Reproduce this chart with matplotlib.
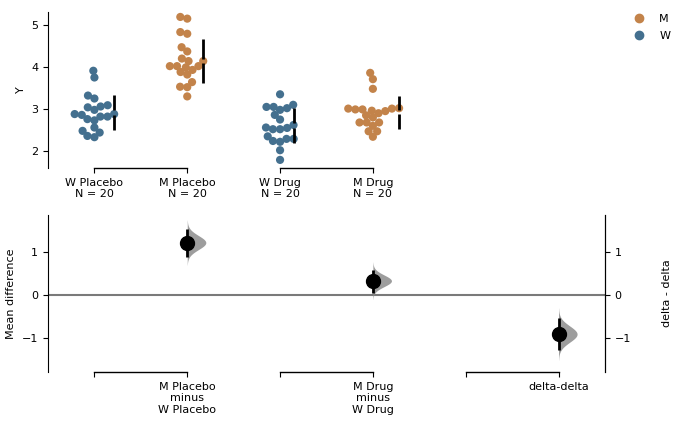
import matplotlib
matplotlib.use("Agg")
import matplotlib.pyplot as plt
from matplotlib.lines import Line2D
import numpy as np
import pandas as pd
import seaborn as sns

groups = ["W Placebo", "M Placebo", "W Drug", "M Drug"]
group_sex = ["W", "M", "W", "M"]
w_placebo = [3.91, 3.75, 3.32, 3.25, 3.09, 3.04, 2.98, 3.06, 2.88, 2.86,
             2.88, 2.76, 2.73, 2.82, 2.82, 2.56, 2.44, 2.36, 2.33, 2.48]
m_placebo = [5.19, 5.15, 4.83, 4.79, 4.47, 4.37, 4.20, 4.14, 4.14, 4.02,
             4.02, 4.02, 3.99, 3.93, 3.88, 3.82, 3.64, 3.53, 3.52, 3.30]
w_drug = [3.35, 3.10, 3.02, 2.98, 3.05, 3.05, 2.86, 2.75, 2.56, 2.52,
          2.52, 2.55, 2.62, 2.29, 2.24, 2.22, 2.29, 2.35, 2.02, 1.79]
m_drug = [3.86, 3.71, 3.48, 3.02, 3.01, 2.96, 2.90, 2.95, 2.99, 2.99,
          3.01, 2.80, 2.85, 2.68, 2.68, 2.68, 2.60, 2.47, 2.47, 2.34]

# effect sizes and 95% CIs
delta_labels = ["M Placebo\nminus\nW Placebo", "M Drug\nminus\nW Drug", "delta-delta"]
delta_values = [1.22, 0.33, -0.91]
ci_low = [0.89, 0.05, -1.28]
ci_high = [1.53, 0.58, -0.54]

# colours
BLUE = sns.desaturate("#1f77b4", 0.5)
ORANGE = sns.desaturate("#ff7f0e", 0.5)
palette = {"W": BLUE, "M": ORANGE}
FS = 8

plt.rcParams["font.family"] = ["DejaVu Sans"]
plt.rcParams["font.size"] = FS

values = [w_placebo, m_placebo, w_drug, m_drug]
df = pd.DataFrame({
    "group": np.repeat(groups, [len(v) for v in values]),
    "sex": np.repeat(group_sex, [len(v) for v in values]),
    "Y": np.concatenate(values),
})

fig = plt.figure(figsize=(6.8, 4.25), dpi=100)
ax_top = fig.add_axes([0.0706, 0.605, 0.819, 0.367])
ax_bot = fig.add_axes([0.0706, 0.125, 0.819, 0.369])

# ---- top: raw data swarm ------------------------------------------------
# lay the swarm out with a slightly smaller marker so the dots overlap a bit
sns.swarmplot(data=df, x="group", y="Y", hue="sex", order=groups,
              palette=palette, size=4.9, ax=ax_top, legend=False)
ax_top.set_xlim(-0.5, 5.5)
ax_top.set_ylim(1.6, 5.31)
ax_top.set_yticks([2, 3, 4, 5])
ax_top.set_xticks(range(len(groups)))
ax_top.set_xticklabels([g + "\nN = %d" % len(v) for g, v in zip(groups, values)])
ax_top.set_xlabel("")
ax_top.set_ylabel("Y")
for s in ["top", "right", "bottom"]:
    ax_top.spines[s].set_visible(False)

# need a draw so that the swarm offsets are settled, then freeze them
fig.canvas.draw()
right_edge = []
for coll in ax_top.collections[:len(groups)]:
    off = coll.get_offsets()
    right_edge.append(np.max(off[:, 0]))
    if "draw" in coll.__dict__:
        del coll.draw
    coll.set_sizes([5.9 ** 2])
    coll.set_linewidth(0)

GAP = 0.05
for i, v in enumerate(values):
    m = np.mean(v)
    sd = np.std(v, ddof=1)
    xg = right_edge[i]
    ax_top.vlines(xg, m - sd, m - GAP, color="black", lw=2, zorder=3)
    ax_top.vlines(xg, m + GAP, m + sd, color="black", lw=2, zorder=3)

y0 = ax_top.get_ylim()[0]
for a in (0, 2):
    ax_top.plot([a, a + 1], [y0, y0], color="black", lw=1, clip_on=False)

# ---- bottom: effect sizes ----------------------------------------------
ax_bot.set_xlim(-0.5, 5.5)
ax_bot.set_ylim(-1.79, 1.86)
ax_bot.axhline(0, color="#7a7a7a", lw=1.5, zorder=1)

delta_pos = [1, 3, 5]
for x, d, lo, hi in zip(delta_pos, delta_values, ci_low, ci_high):
    sig = (hi - lo) / 3.92
    yy = np.linspace(d - 3.2 * sig, d + 3.2 * sig, 200)
    dens = np.exp(-0.5 * ((yy - d) / sig) ** 2)
    ax_bot.fill_betweenx(yy, x, x + 0.2 * dens, color="#8c8c8c", alpha=0.85,
                         lw=0, zorder=2)
    ax_bot.vlines(x, lo, hi, color="black", lw=2, zorder=3)
    ax_bot.plot(x, d, "o", color="black", ms=10, zorder=4)

ax_bot.set_xticks(range(6))
ax_bot.set_xticklabels(["", delta_labels[0], "", delta_labels[1], "", delta_labels[2]])
ax_bot.set_yticks([-1, 0, 1])
ax_bot.set_ylabel("Mean difference")
for s in ["top", "bottom"]:
    ax_bot.spines[s].set_visible(False)
y0 = ax_bot.get_ylim()[0]
for a in (0, 2, 4):
    ax_bot.plot([a, a + 1], [y0, y0], color="black", lw=1, clip_on=False)

ax_dd = ax_bot.twinx()
ax_dd.set_ylim(ax_bot.get_ylim())
ax_dd.set_yticks([-1, 0, 1])
ax_dd.set_ylabel("delta - delta", labelpad=22)
for s in ["top", "bottom", "left"]:
    ax_dd.spines[s].set_visible(False)

handles = [Line2D([], [], marker="o", ls="", color=palette[k], ms=6, label=k)
           for k in ["M", "W"]]
fig.legend(handles=handles, loc="upper left", bbox_to_anchor=(0.909, 0.99),
           frameon=False, handletextpad=0.8, labelspacing=0.6)

fig.savefig("out.png", dpi=100)
